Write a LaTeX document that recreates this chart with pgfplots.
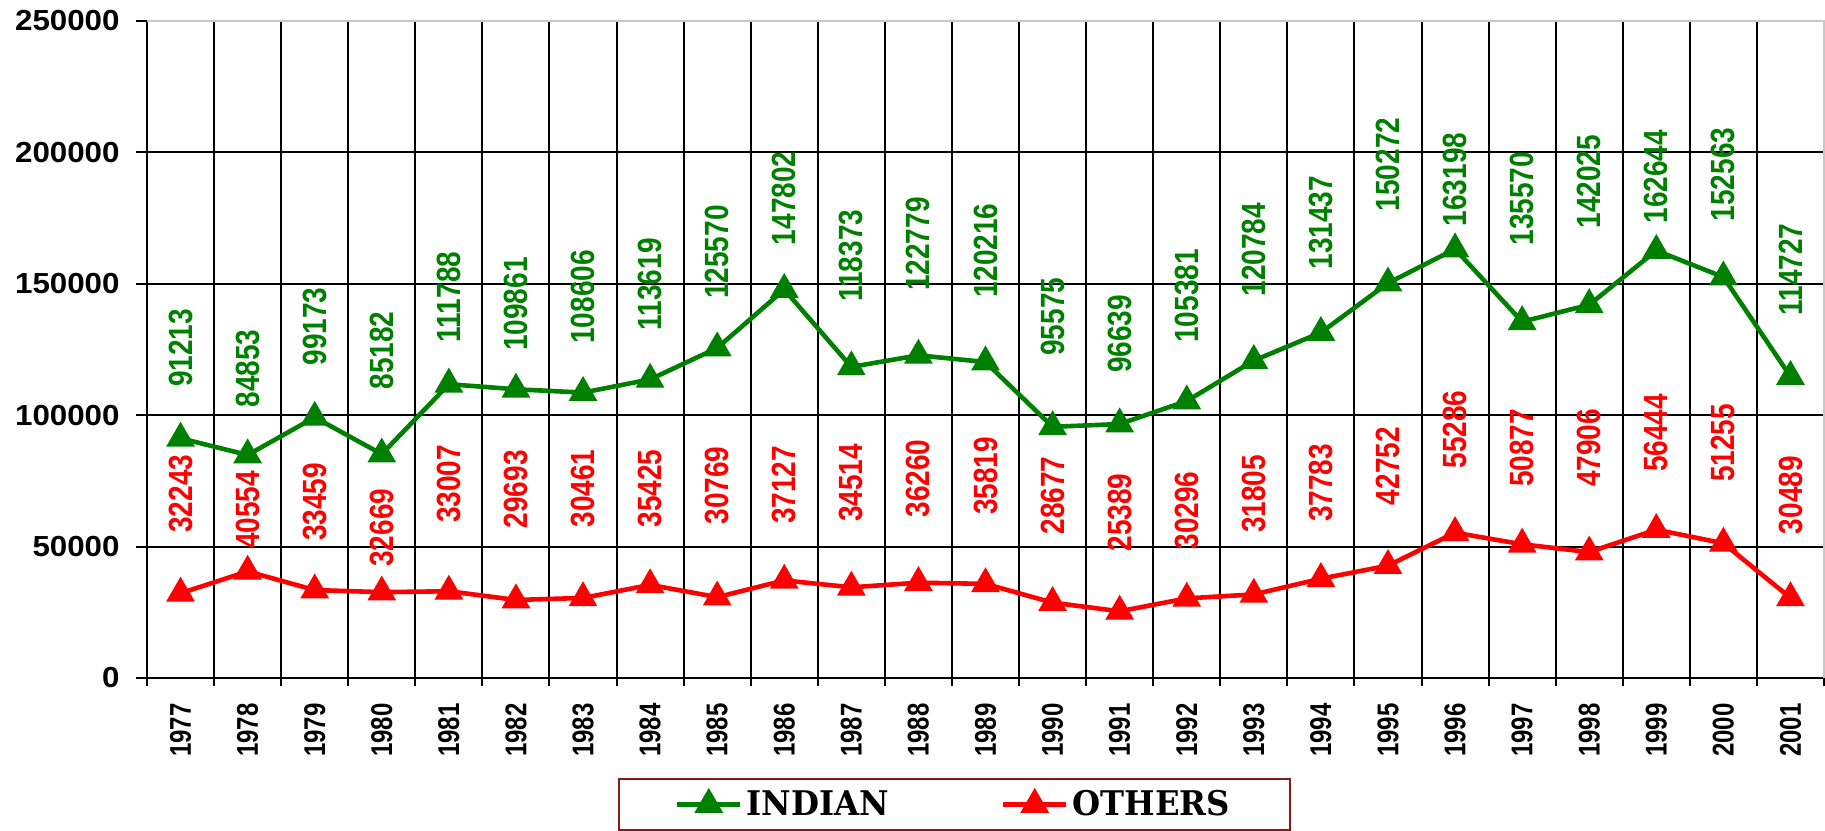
\documentclass[border=0pt]{standalone}
\usepackage{fontspec}
\setmainfont{Liberation Sans}
\newfontfamily\legfont{DejaVu Serif}
\usepackage{graphicx}
\usepackage{pgfplots}
\pgfplotsset{compat=1.18}
\usepackage{pgfplotstable}
\definecolor{xlgreen}{RGB}{0,128,0}
\definecolor{xlred}{RGB}{255,0,0}
\definecolor{legborder}{RGB}{135,25,25}
\definecolor{bordergray}{RGB}{200,200,200}

\pgfplotstableread{
year indian others
1977 91213 32243
1978 84853 40554
1979 99173 33459
1980 85182 32669
1981 111788 33007
1982 109861 29693
1983 108606 30461
1984 113619 35425
1985 125570 30769
1986 147802 37127
1987 118373 34514
1988 122779 36260
1989 120216 35819
1990 95575 28677
1991 96639 25389
1992 105381 30296
1993 120784 31805
1994 131437 37783
1995 150272 42752
1996 163198 55286
1997 135570 50877
1998 142025 47906
1999 162644 56444
2000 152563 51255
2001 114727 30489
}\datatable

% label positions (y, in data units) and label texts
\pgfplotstableread{
year ilab olab ival oval
1977 125600 70100 91213 32243
1978 117800 64000 84853 40554
1979 133800 67000 99173 33459
1980 124600 57200 85182 32669
1981 145000 73800 111788 33007
1982 142300 71800 109861 29693
1983 145000 72100 108606 30461
1984 149800 72100 113619 35425
1985 162100 73200 125570 30769
1986 182500 73500 147802 37127
1987 160700 74200 118373 34514
1988 165100 75900 122779 36260
1989 162700 76900 120216 35819
1990 137500 69400 95575 28677
1991 130900 63000 96639 25389
1992 145400 63700 105381 30296
1993 163000 70000 120784 31805
1994 173200 74200 131437 37783
1995 195400 80600 150272 42752
1996 189700 94600 163198 55286
1997 182400 87600 135570 50877
1998 188900 87500 142025 47906
1999 190800 93200 162644 56444
2000 191600 89400 152563 51255
2001 155400 69600 114727 30489
}\labeltable

\begin{document}
\begin{tikzpicture}
\path (-73.5pt,-76pt) rectangle (839pt,339pt);
\begin{axis}[
  at={(0pt,0pt)}, anchor=south west,
  scale only axis, width=838.5pt, height=328.5pt,
  xmin=1976.5, xmax=2001.5, ymin=0, ymax=250000,
  scaled x ticks=false, scaled y ticks=false,
  /pgf/number format/fixed,
  /pgf/number format/precision=0,
  /pgf/number format/1000 sep={},
  /pgf/number format/assume math mode=true,
  xtick={1977,1978,...,2001},
  minor xtick={1976.5,1977.5,...,2001.5},
  ytick={0,50000,...,250000},
  axis x line*=bottom, axis y line*=left,
  x axis line style={-, black, line width=1pt},
  y axis line style={-, black, line width=1pt},
  tick align=outside,
  major tick length=5.5pt,
  minor tick length=4pt,
  major x tick style={draw=none},
  minor x tick style={black, line width=1pt},
  major y tick style={black, line width=1pt},
  xminorgrids=true, ymajorgrids=true,
  grid style={black, line width=1pt},
  yticklabel={\scalebox{1.08}[1]{\pgfmathprintnumber{\tick}}},
  yticklabel style={font=\fontsize{14.5}{14.5}\selectfont\bfseries, anchor=east, inner sep=0pt},
  yticklabel shift=8pt,
  xticklabel={\scalebox{1}[1.25]{\pgfmathprintnumber{\tick}}},
  xticklabel style={font=\fontsize{12}{12}\selectfont\bfseries, rotate=90, anchor=east, inner sep=0pt},
  xticklabel shift=7pt,
  legend columns=2,
  legend style={at={(0.4815,-0.1925)}, anchor=center, draw=legborder, line width=0.8pt,
    inner xsep=28pt, inner ysep=3.75pt,
    font=\fontsize{17}{17}\selectfont,
    /tikz/every even column/.append style={column sep=54pt}},
  legend image code/.code={\draw[mark repeat=2, mark phase=2, mark size=6pt] plot coordinates {(0pt,0pt) (15.75pt,0pt) (31.5pt,0pt)};},
  after end axis/.code={\draw[bordergray, line width=1pt] (rel axis cs:0,1) -- (rel axis cs:1,1) -- (rel axis cs:1,0);},
]
\addplot[xlgreen, line width=2.3pt, mark=triangle*, mark size=6pt, mark options={solid}]
  table[x=year, y=indian]{\datatable};
\addlegendentry{\legfont\bfseries\scalebox{0.95}[1]{INDIAN}}
\addplot[xlred, line width=2.3pt, mark=triangle*, mark size=6pt, mark options={solid}]
  table[x=year, y=others]{\datatable};
\addlegendentry{\legfont\bfseries\scalebox{0.95}[1]{OTHERS}}

\addplot[forget plot, only marks, mark=text, text mark={},
  point meta=explicit symbolic,
  nodes near coords={\scalebox{1}[1.2]{\pgfplotspointmeta}},
  every node near coord/.append style={text=xlgreen, font=\fontsize{14}{14}\selectfont\bfseries, rotate=90, anchor=center, inner sep=0pt}]
  table[x=year, y=ilab, meta=ival]{\labeltable};
\addplot[forget plot, only marks, mark=text, text mark={},
  point meta=explicit symbolic,
  nodes near coords={\scalebox{1}[1.2]{\pgfplotspointmeta}},
  every node near coord/.append style={text=xlred, font=\fontsize{14}{14}\selectfont\bfseries, rotate=90, anchor=center, inner sep=0pt}]
  table[x=year, y=olab, meta=oval]{\labeltable};
\end{axis}
\end{tikzpicture}
\end{document}
